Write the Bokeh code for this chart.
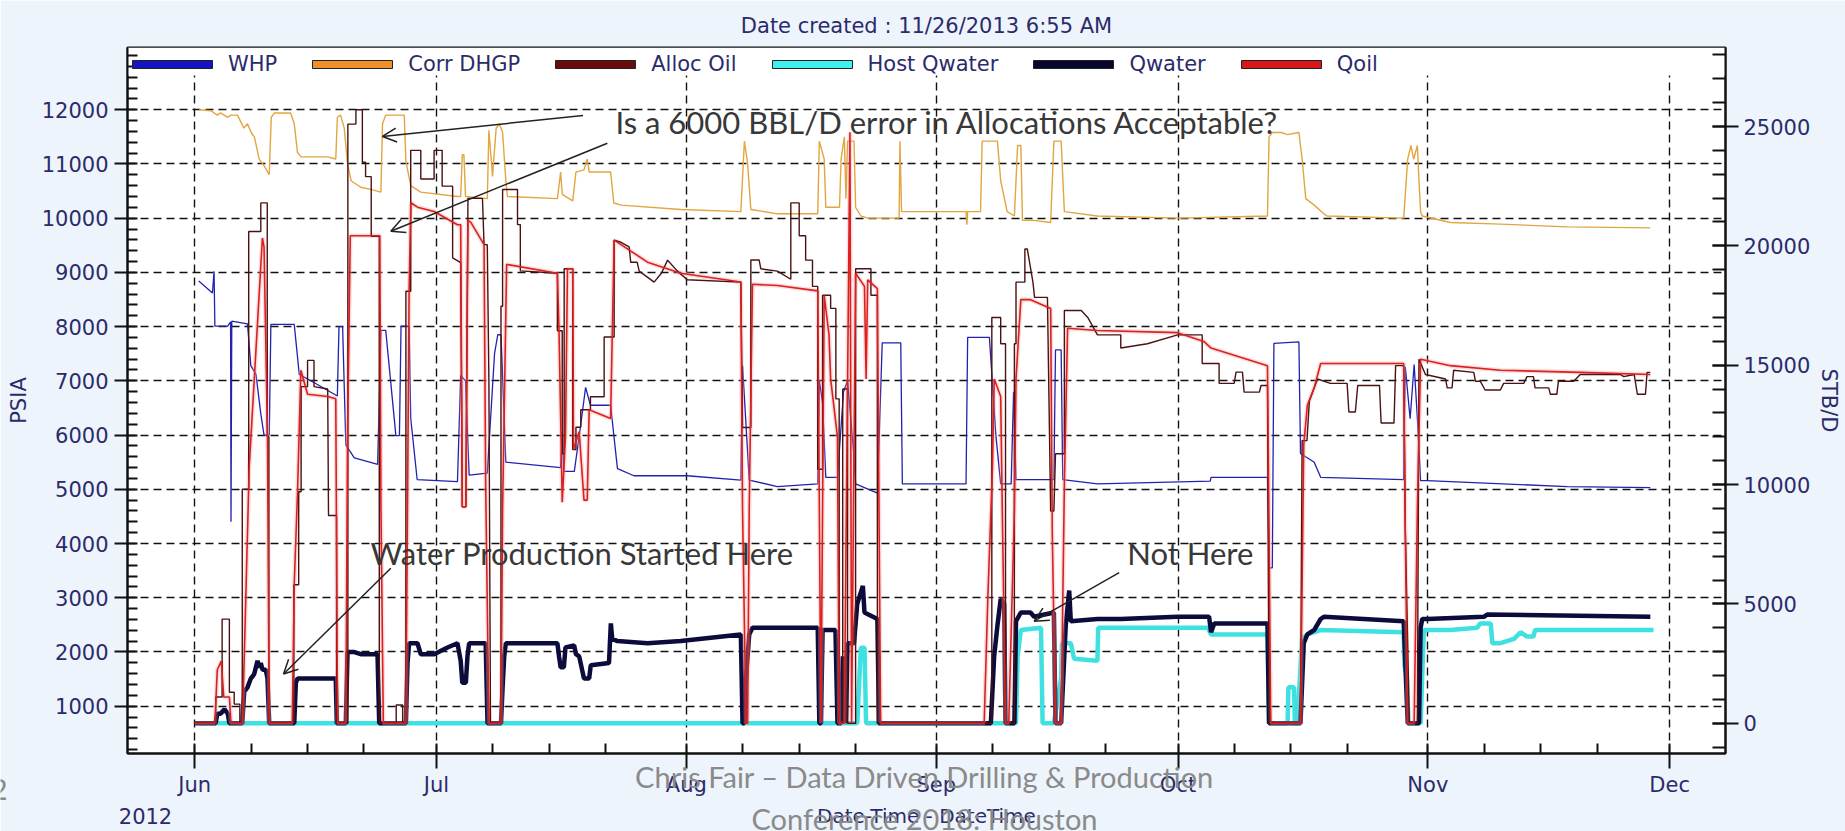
import math
from bokeh.plotting import figure
from bokeh.layouts import column
from bokeh.models import (Range1d, LinearAxis, FixedTicker, Legend, LegendItem,
                          Label, Arrow, OpenHead, BoxAnnotation)
from bokeh.embed import file_html
from bokeh.resources import INLINE

# ---------------- data (x = days after 1 June 2012) ----------------
month_days = [0, 30, 61, 92, 122, 153, 183]
month_labels = ["Jun", "Jul", "Aug", "Sep", "Oct", "Nov", "Dec"]
week_days = [d + k for d in month_days[:-1] for k in (7, 14, 21)]
psia_ticks = list(range(1000, 12001, 1000))
psia_minor = list(range(200, 13001, 200))
stb_ticks = list(range(0, 25001, 5000))
stb_minor = list(range(-1000, 28001, 1000))
year_label = "2012"

whp = [(0.5,8840),(1.6,8700),(2.2,8620),(2.4,9020),(2.5,8010),(4.1,8010),(4.45,8090),(4.5,4400),(4.6,8100),
       (6.55,8050),(6.96,7280),(7.6,7120),(8.2,6390),(8.6,6000),(9.25,6000),(9.45,8040),(12.35,8040),(12.97,7120),
       (15.0,6950),(17.7,6720),(17.9,8000),(18.35,8000),(18.75,5820),(19.8,5580),(22.7,5460),(23.1,7930),(23.7,7930),
       (24.96,5990),(25.4,5990),(25.6,8010),(26.6,8010),(26.8,6310),(27.6,5180),(32.6,5140),(33.0,7100),(33.6,7000),
       (34.05,5260),(36.3,5300),(37.2,7500),(37.6,7850),(38.0,7850),(38.6,5500),(45.4,5400),(45.6,6070),(45.8,5330),
       (47.1,5330),(47.9,6200),(48.5,6880),(49.1,6550),(51.6,6550),(52.45,5380),(54.5,5250),(61.1,5250),(67.76,5170),
       (67.97,7280),(68.8,5170),(72.3,5050),(77.3,5100),(77.5,7000),(77.9,6600),(78.3,5220),(79.75,5220),(80.5,6800),
       (81.0,7000),(81.8,5600),(82.0,5100),(84.7,4930),(85.3,7700),(87.6,7700),(87.8,5100),(95.7,5100),(95.9,7800),
       (98.6,7800),(99.4,6000),(100.0,5100),(101.3,5100),(101.6,6800),(101.9,5180),(106.6,5180),(106.8,7570),
       (107.5,7570),(107.7,5180),(112.0,5100),(126.0,5150),(126.1,5220),(133.1,5220),(133.3,3550),(133.7,3550),
       (133.9,7690),(137.0,7720),(137.2,5660),(138.9,5500),(139.7,5220),(150.0,5180),(150.2,7260),(150.8,6300),
       (151.3,7300),(151.7,6300),(152.1,5160),(152.9,5160),(170.3,5050),(180.6,5030)]

corr_dhgp = [(0.55,12000),(2.0,11980),(2.8,11900),(3.2,11940),(4.1,11860),(4.5,11900),(5.3,11900),(6.1,11660),
       (6.55,11740),(7.0,11580),(7.4,11500),(8.0,11090),(8.6,10970),(9.24,10800),(9.5,11860),(9.9,11940),(11.9,11940),
       (12.35,11740),(12.75,11210),(13.2,11130),(16.5,11130),(17.5,11090),(17.7,11860),(18.1,11900),(18.55,11660),
       (18.96,11010),(19.4,10690),(20.6,10570),(21.85,10530),(23.1,10480),(23.3,11740),(23.7,11900),(26.0,11900),
       (26.2,11050),(26.8,10600),(28.05,10480),(32.6,10400),(33.0,10400),(33.2,11170),(33.4,11170),(33.6,10400),
       (36.3,10360),(36.5,11620),(36.95,10770),(37.4,11660),(37.8,11740),(38.2,11580),(38.6,10690),(38.8,10400),
       (45.0,10360),(45.4,10850),(45.6,10440),(46.9,10320),(47.3,10850),(48.3,10890),(48.7,11090),(48.95,10850),
       (51.6,10850),(52.0,10280),(52.9,10240),(60.3,10160),(67.76,10120),(68.2,11420),(68.6,11010),(69.0,10160),
       (72.3,10080),(77.3,10080),(77.5,11420),(78.1,11090),(78.3,10200),(80.0,10200),(80.2,11090),(80.6,11500),
       (80.8,10360),(81.0,11420),(81.8,11420),(82.0,10200),(82.65,10040),(83.5,10000),(87.4,10000),(87.5,11420),
       (87.7,10120),(95.7,10120),(95.8,9880),(95.9,10120),(97.5,10120),(97.7,11420),(99.6,11420),(100.0,10690),
       (100.8,10120),(101.7,10040),(102.1,11340),(102.5,11340),(102.7,9960),(104.1,9960),(106.2,9920),(106.6,11420),
       (107.5,11420),(107.9,10120),(112.0,10040),(122.0,10000),(133.1,10040),(133.3,11500),(133.7,11580),
       (134.8,11580),(135.6,11540),(137.0,11580),(137.4,11090),(137.85,10360),(138.9,10240),(140.1,10080),
       (140.5,10040),(150.0,10000),(150.5,11090),(150.9,11340),(151.25,11090),(151.7,11340),(151.9,10690),
       (152.1,10120),(152.3,10040),(155.8,9920),(162.0,9890),(170.3,9840),(180.6,9820)]

alloc_oil = [(0,0),(2.6,0),(2.6,1100),(3.4,1100),(3.4,4360),(4.3,4360),(4.3,1300),(4.9,1300),(4.9,800),(5.6,800),
       (5.6,0),(5.9,0),(5.9,9800),(6.7,9800),(6.7,20600),(8.2,20600),(8.2,21800),(9.0,21800),(9.0,12000),(9.2,12000),
       (9.2,0),(12.3,0),(12.3,5800),(12.9,5800),(12.9,9700),(13.2,9700),(13.2,14100),(14.0,14100),(14.0,15200),
       (14.8,15200),(14.8,14100),(16.5,14000),(16.6,8700),(17.6,8700),(17.6,0),(19.0,0),(19.0,25100),(20.0,25100),
       (20.0,25700),(20.8,25700),(20.8,23500),(21.2,23500),(21.2,22900),(21.9,22900),(21.9,20400),(22.9,20400),
       (22.9,0),(25.0,0),(25.0,760),(25.8,760),(25.8,0),(26.2,0),(26.2,18100),(26.8,18100),(26.8,24000),(28.05,24000),
       (28.05,22800),(29.7,22800),(29.7,24000),(30.7,24000),(30.7,22500),(32.0,22500),(32.0,19500),(33.0,19300),
       (33.2,9070),(33.64,9070),(33.9,21990),(35.7,21990),(35.9,20050),(36.3,20050),(36.5,14330),(36.7,0),(38.0,0),
       (38.0,17470),(38.2,17470),(38.2,22360),(40.05,22360),(40.05,20890),(40.4,20890),(40.4,18950),(45.0,18850),
       (45.0,16440),(45.6,16440),(45.6,11290),(45.84,11290),(45.84,19040),(46.9,19040),(46.9,11470),(47.3,11470),
       (47.3,12400),(47.9,12400),(47.9,13130),(49.1,13130),(49.1,13680),(50.8,13680),(50.8,16180),(52.04,16180),
       (52.04,20240),(52.9,20150),(53.9,19960),(54.1,19310),(54.9,19310),(55.15,18940),(57.0,18480),(57.9,18850),
       (58.67,19400),(59.9,18940),(61.1,18580),(67.76,18480),(67.97,12390),(69.0,12390),(69.0,19410),(70.03,19410),
       (70.24,19040),(72.3,18940),(73.96,18600),(73.96,21800),(75.0,21800),(75.0,20420),(75.8,20420),(75.8,19400),
       (76.65,19400),(76.65,18300),(77.3,18300),(77.3,10640),(77.9,10640),(77.9,17930),(78.9,17930),(78.9,17380),
       (79.55,17380),(79.55,13590),(79.96,13590),(79.96,0),(80.4,0),(80.4,14000),(81.0,14000),(81.0,0),(82.0,0),
       (82.0,19040),(83.9,19040),(83.9,17930),(84.7,17930),(84.7,0),(98.9,0),(98.9,17000),(100.0,17000),
       (100.0,15900),(100.6,15900),(100.6,0),(101.7,0),(101.7,15900),(101.9,15900),(101.9,18480),(103.0,18480),
       (103.0,19870),(103.3,19870),(104.0,18480),(104.2,17840),(105.8,17840),(106.2,8890),(106.6,8890),(106.8,11290),
       (107.9,11290),(107.9,17290),(110.0,17290),(110.8,17000),(112.0,16270),(114.9,16270),(114.9,15720),
       (118.2,15900),(121.95,16270),(125.0,16270),(125.0,15070),(127.1,15070),(127.1,14240),(128.97,14240),
       (129.2,14710),(130.0,14710),(130.2,13870),(132.1,13870),(132.3,14150),(133.1,14150),(133.3,0),(137.2,0),
       (137.4,11840),(138.0,11840),(138.3,13500),(139.3,14420),(140.9,14240),(142.98,14240),(143.2,13040),
       (144.0,13040),(144.3,14150),(147.0,14150),(147.2,12580),(148.8,12580),(149.0,14980),(150.0,14980),
       (150.2,8150),(150.7,0),(151.7,0),(151.9,15250),(152.7,14610),(155.2,14420),(155.4,14050),(156.0,14050),
       (156.2,14790),(158.7,14700),(158.9,14330),(159.5,14330),(160.1,13960),(162.0,13960),(162.4,14240),
       (164.9,14240),(165.3,14520),(166.1,14520),(166.3,14050),(168.0,14050),(168.2,13780),(169.0,13780),
       (169.2,14330),(171.1,14330),(171.9,14610),(176.9,14610),(177.3,14520),(178.6,14610),(179.0,13780),
       (180.0,13780),(180.2,14700),(180.6,14700)]

qoil = [(0,0),(2.5,0),(2.8,2240),(3.3,2600),(3.6,1100),(4.3,1100),(4.5,0),(5.93,0),(6.76,10730),(8.4,20330),
       (8.6,19960),(9.03,12025),(9.24,0),(12.1,0),(12.35,5840),(12.75,9625),(13.17,14790),(14.0,13780),(16.5,13690),
       (17.5,13590),(17.72,0),(18.75,0),(18.96,12025),(19.3,20420),(22.97,20420),(23.1,9256),(23.4,0),(26.2,0),
       (26.6,18115),(26.81,21806),(27.64,21621),(29.7,21437),(32.6,20883),(33.0,20883),(33.2,9071),(33.64,9071),
       (33.9,21068),(34.26,20980),(35.9,20052),(36.1,10000),(36.5,0),(38.0,0),(38.2,9000),(38.7,19223),(45.0,18854),
       (45.2,16455),(45.6,9256),(46.0,12000),(46.25,19038),(46.9,19038),(47.0,11475),(47.7,12213),(48.3,9348),
       (48.7,9348),(48.94,13133),(51.6,12764),(52.04,20237),(52.9,20052),(56.18,19315),(60.3,18854),(67.76,18484),
       (67.97,9000),(68.4,0),(68.6,0),(68.8,9000),(69.2,18392),(72.3,18337),(77.3,18115),(77.5,9000),(77.7,0),
       (77.9,9000),(78.1,17930),(78.7,16270),(78.9,14425),(79.75,12000),(79.96,0),(80.6,0),(81.3,24760),(81.5,0),
       (82.0,18854),(83.1,18300),(83.3,14425),(83.5,18577),(84.7,18207),(84.9,9000),(85.1,0),(97.95,0),(98.4,5197),
       (98.98,10730),(99.2,14425),(100.0,13686),(100.2,8887),(100.6,0),(101.0,0),(101.7,8887),(101.9,14425),
       (102.5,17746),(103.7,17746),(106.2,17377),(106.4,8000),(106.8,0),(107.5,0),(107.9,10000),(108.3,16547),
       (112.0,16455),(121.95,16363),(125.2,15994),(126.1,15717),(133.1,14979),(133.3,8000),(133.5,0),(137.2,0),
       (137.6,11660),(138.05,13318),(138.9,14056),(139.7,15071),(150.0,15071),(150.2,8000),(150.5,0),(151.3,0),
       (151.7,9000),(152.1,15250),(155.8,14980),(162.0,14790),(171.9,14700),(180.6,14610)]

qwater = [(0,0),(2.6,0),(2.8,400),(3.2,400),(3.7,580),(4.1,400),(4.3,0),(5.9,0),(6.14,1320),(6.55,1500),(6.96,1870),
       (7.38,2060),(7.79,2610),(8.0,2340),(8.2,2520),(8.41,2240),(8.82,2240),(9.03,1870),(9.24,0),(12.35,0),
       (12.55,1690),(12.75,1870),(17.5,1870),(17.63,0),(18.75,0),(18.96,2980),(19.8,2980),(20.6,2890),(22.68,2890),
       (22.89,0),(26.2,0),(26.4,2500),(26.6,3350),(27.64,3350),(28.05,2890),(29.71,2890),(31.36,3170),(32.6,3350),
       (33.0,2613),(33.2,1690),(33.64,1690),(33.84,2800),(34.05,3350),(36.1,3350),(36.33,0),(38.0,0),(38.2,1500),
       (38.4,2800),(38.6,3350),(45.0,3350),(45.2,2800),(45.4,2340),(45.8,2340),(46.0,3170),(47.08,3260),(47.3,2890),
       (47.7,2800),(48.3,1875),(48.94,1875),(49.14,2430),(51.4,2520),(51.63,4180),(51.8,3540),(52.45,3440),
       (56.18,3350),(60.3,3440),(67.76,3720),(67.97,0),(68.2,0),(68.4,1875),(68.8,3720),(69.2,4000),(77.3,4000),
       (77.5,0),(77.7,0),(77.9,3900),(79.5,3900),(79.75,0),(80.2,0),(80.4,2800),(80.8,0),(81.0,3350),(81.8,3350),
       (82.2,5000),(82.9,5750),(83.1,4640),(84.7,4366),(84.9,0),(98.78,0),(99.19,2800),(99.6,4100),(100.0,5200),
       (100.43,5010),(100.6,0),(101.7,0),(101.9,4270),(102.5,4640),(103.7,4640),(104.15,4460),(106.6,4640),
       (106.8,0),(107.5,0),(108.07,4090),(108.5,5560),(108.7,4270),(112.0,4366),(114.9,4366),(121.95,4459),
       (125.86,4459),(126.1,3813),(126.5,4182),(133.1,4182),(133.3,0),(137.2,0),(137.6,3351),(138.05,3720),
       (138.9,3905),(139.7,4366),(140.1,4459),(150.0,4274),(150.5,0),(151.9,0),(152.1,4000),(152.3,4366),
       (152.9,4366),(159.95,4459),(160.35,4551),(180.6,4459)]

host_qwater = [(0.5,0),(82.2,0),(82.65,3166),(83.1,3166),(83.3,0),(101.9,0),(102.1,2797),(102.5,3905),(105.0,3997),
       (105.2,0),(106.6,0),(107.5,1875),(107.6,3351),(108.7,3351),(109.1,2705),(112.0,2613),(112.1,3997),
       (125.7,3997),(126.1,3720),(133.1,3720),(133.3,0),(135.6,0),(135.7,1506),(136.4,1506),(136.5,0),(136.8,0),
       (137.4,3536),(138.05,3720),(139.7,3905),(150.0,3813),(150.1,2428),(150.4,1875),(150.6,0),(152.1,0),
       (152.5,3905),(155.8,3905),(159.1,3997),(159.5,4182),(160.8,4182),(161.0,3351),(162.0,3351),(163.7,3536),
       (164.5,3813),(165.3,3628),(166.1,3628),(166.3,3905),(181.0,3905)]

series_names = ["WHP", "Corr DHGP", "Alloc Oil", "Host Qwater", "Qwater", "Qoil"]


def split(pairs):
    return [a for a, _ in pairs], [b for _, b in pairs]


NAVY = "#2b2b6b"
GREY = "#8a8a8a"
p = figure(width=1845, height=831, x_range=Range1d(-8.34, 189.93), y_range=Range1d(128, 13147),
           output_backend="svg", toolbar_location=None,
           min_border_left=127, min_border_right=120, min_border_top=47, min_border_bottom=78,
           background_fill_color="#ffffff", border_fill_color="#eef4fb",
           outline_line_color="#111111", outline_line_width=2)
p.extra_y_ranges = {"rate": Range1d(-1269, 28310)}

p.title.text = "Date created : 11/26/2013 6:55 AM"
p.title.align = "center"
p.title.text_font = "DejaVu Sans"
p.title.text_font_size = "21px"
p.title.text_font_style = "normal"
p.title.text_color = NAVY
p.title.standoff = 20

# main axes
xax = p.xaxis[0]
yax = p.yaxis[0]
xax.ticker = FixedTicker(ticks=month_days, minor_ticks=week_days)
xax.major_label_overrides = {d: l for d, l in zip(month_days, month_labels)}
xax.major_tick_in = 10
xax.major_tick_out = 15
xax.minor_tick_in = 10
xax.minor_tick_out = 0
xax.major_label_standoff = 4
xax.axis_label = "Date-Time - DateTime"
xax.axis_label_standoff = 4
xax.axis_label_text_font_size = "20px"

yax.ticker = FixedTicker(ticks=psia_ticks, minor_ticks=psia_minor)
yax.major_tick_in = 0
yax.major_tick_out = 13
yax.minor_tick_in = 10
yax.minor_tick_out = 0
yax.major_label_standoff = 6
yax.axis_label = "PSIA"
yax.axis_label_standoff = 8
yax.axis_label_text_font_size = "21px"

rax = LinearAxis(y_range_name="rate", ticker=FixedTicker(ticks=stb_ticks, minor_ticks=stb_minor),
                 major_tick_in=13, major_tick_out=13, minor_tick_in=13, minor_tick_out=0,
                 major_label_standoff=5, axis_label="STB/D", axis_label_standoff=4,
                 axis_label_text_font_size="21px")
p.add_layout(rax, "right")

for ax in [xax, yax, rax]:
    ax.axis_line_width = 2
    ax.axis_line_color = "#111111"
    ax.major_tick_line_color = "#111111"
    ax.major_tick_line_width = 2
    ax.minor_tick_line_color = "#111111"
    ax.minor_tick_line_width = 2
    ax.major_label_text_font = "DejaVu Sans"
    ax.major_label_text_font_size = "21px"
    ax.major_label_text_color = NAVY
    ax.axis_label_text_font = "DejaVu Sans"
    ax.axis_label_text_font_style = "normal"
    ax.axis_label_text_color = NAVY

# grids
p.xgrid.ticker = FixedTicker(ticks=month_days)
p.ygrid.ticker = FixedTicker(ticks=psia_ticks)
for g in (p.xgrid[0], p.ygrid[0]):
    g.grid_line_color = "#111111"
    g.grid_line_dash = "8 5"
    g.grid_line_width = 1.4

# white band under the legend
p.add_layout(BoxAnnotation(bottom=12630, fill_color="white", fill_alpha=1.0, line_alpha=0, level="underlay"))

# series
hx, hy = split(host_qwater)
p.line(hx, hy, y_range_name="rate", line_color="#3fe0e0", line_width=4.5)
wx, wy = split(qwater)
p.line(wx, wy, y_range_name="rate", line_color="#0b0b3c", line_width=4.5)
dx, dy = split(corr_dhgp)
p.line(dx, dy, line_color="#e2a540", line_width=1.4)
px_, py_ = split(whp)
p.line(px_, py_, line_color="#2222b0", line_width=1.3)
ox, oy = split(qoil)
p.line(ox, oy, y_range_name="rate", line_color="#f0a0a0", line_alpha=0.35, line_width=4.5)
ax_, ay_ = split(alloc_oil)
p.line(ax_, ay_, y_range_name="rate", line_color="#4a1212", line_width=1.4)
p.line(ox, oy, y_range_name="rate", line_color="#dd1f1f", line_width=1.6)

# legend (swatch boxes; the swatch glyphs sit outside the visible range)
swatch_colors = ["#1414c4", "#f0902a", "#6a0c0c", "#40f0f0", "#06062e", "#d81818"]
items = []
for name, c in zip(series_names, swatch_colors):
    r = p.quad(left=[-60], right=[-59], top=[-500], bottom=[-501], fill_color=c,
               line_color="#222222", line_width=1)
    items.append(LegendItem(label=name, renderers=[r]))
legend = Legend(items=items, orientation="horizontal", location=(-5, 677), margin=0, padding=0,
                spacing=25, glyph_width=100, glyph_height=10, label_standoff=6,
                label_text_font="DejaVu Sans", label_text_font_size="21px", label_text_color=NAVY,
                background_fill_alpha=0, border_line_alpha=0)
p.add_layout(legend)

# annotations inside the plot
ANN = "#383838"
p.add_layout(Label(x=52.2, y=11782, text="Is a 6000 BBL/D error in Allocations Acceptable?",
                   text_font="Lato", text_font_size="31px", text_color=ANN, text_baseline="middle"))
p.add_layout(Label(x=21.8, y=3834, text="Water Production Started Here",
                   text_font="Lato", text_font_size="31px", text_color=ANN, text_baseline="middle"))
p.add_layout(Label(x=115.7, y=3834, text="Not Here",
                   text_font="Lato", text_font_size="31px", text_color=ANN, text_baseline="middle"))
for (x0, y0, x1, y1) in [(48.18, 11893, 23.3, 11506), (51.2, 11382, 24.33, 9758),
                         (24.33, 3543, 11.02, 1594), (114.7, 3462, 104.16, 2568)]:
    p.add_layout(Arrow(end=OpenHead(size=14, line_color="#222222", line_width=1.5),
                       x_start=x0, y_start=y0, x_end=x1, y_end=y1,
                       line_color="#222222", line_width=1.5))

# transparent footer strip (page pixels) pulled up over the bottom of the chart
FOOT_H = 71
foot = figure(width=1845, height=FOOT_H, y_range=Range1d(831, 831 - FOOT_H),
              output_backend="svg", toolbar_location=None, x_axis_location=None, y_axis_location=None,
              min_border=0, background_fill_alpha=0, border_fill_alpha=0, outline_line_color=None,
              margin=(-FOOT_H, 0, 0, 0))
if "frame_align" in foot.properties():
    foot.frame_align = False
    foot.x_range = Range1d(0, 1845)
else:
    foot.x_range = Range1d(127, 1725)
foot.grid.visible = False
foot.add_layout(Label(x=924, y=776, text="Chris Fair \u2013 Data Driven Drilling & Production",
                      text_font="Lato", text_font_size="29px", text_color=GREY,
                      text_align="center", text_baseline="middle"))
foot.add_layout(Label(x=924, y=818, text="Conference 2018: Houston",
                      text_font="Lato", text_font_size="29px", text_color=GREY,
                      text_align="center", text_baseline="middle"))
foot.add_layout(Label(x=145, y=815, text=year_label, text_font="DejaVu Sans", text_font_size="21px",
                      text_color=NAVY, text_align="center", text_baseline="middle"))
foot.add_layout(Label(x=7, y=789, text="2", text_font="Lato", text_font_size="29px",
                      text_color=GREY, text_align="right", text_baseline="middle"))

page = column(p, foot, spacing=0)
open("out.html", "w").write(file_html(page, INLINE))
